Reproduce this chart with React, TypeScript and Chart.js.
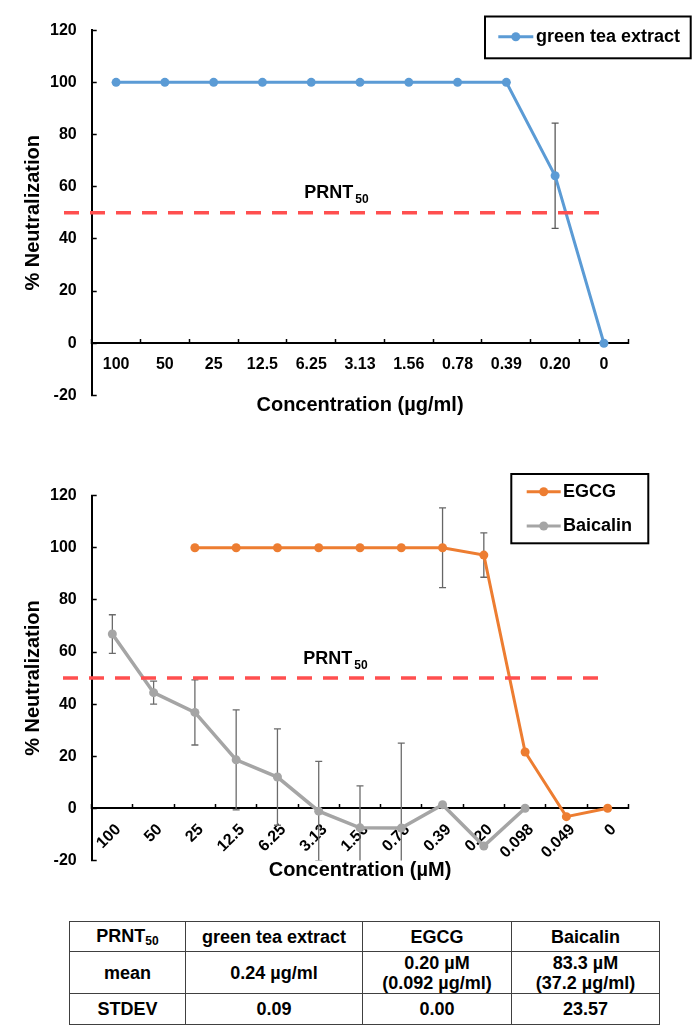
import React, { useEffect, useRef } from 'react';
import { Chart, registerables } from 'chart.js';

Chart.register(...registerables);

// ---------- DATA ----------
const topCategories = ['100', '50', '25', '12.5', '6.25', '3.13', '1.56', '0.78', '0.39', '0.20', '0'];
const greenTeaValues = [100, 100, 100, 100, 100, 100, 100, 100, 100, 64.2, 0];
const greenTeaErrors = [0, 0, 0, 0, 0, 0, 0, 0, 0, 20.2, 0];

const bottomCategories = ['100', '50', '25', '12.5', '6.25', '3.13', '1.56', '0.78', '0.39', '0.20', '0.098', '0.049', '0'];
const egcgValues = [null, null, 100, 100, 100, 100, 100, 100, 100, 97.2, 21.6, -3.2, 0];
const egcgErrors = [null, null, 0, 0, 0, 0, 0, 0, 15.3, 8.5, 0, 0, 0];
const baicalinValues = [66.9, 44.4, 36.8, 18.6, 12.0, -1.1, -7.5, -7.6, 1.4, -14.5, 0, null, null];
const baicalinErrors = [7.4, 4.4, 12.5, 19.2, 18.5, 19.1, 16.1, 32.6, 0, 0, 0, null, null];

const yMin = -20;
const yMax = 120;
const yStep = 20;
const prnt50Level = 50;

const tableHeader = ['green tea extract', 'EGCG', 'Baicalin'];
const tableMean = [['0.24 µg/ml'], ['0.20 µM', '(0.092 µg/ml)'], ['83.3 µM', '(37.2 µg/ml)']];
const tableStdev = ['0.09', '0.00', '23.57'];

// ---------- STYLE ----------
const FONT = '"Liberation Sans", Arial, sans-serif';
const BLUE = '#5B9BD5';
const ORANGE = '#ED7D31';
const GRAY = '#A5A5A5';
const RED = '#FF4F4F';

Chart.defaults.font.family = FONT;
Chart.defaults.color = '#000';

// ---------- PLUGINS ----------
const errorBarsPlugin = {
  id: 'errorBars',
  beforeDatasetsDraw(chart: any) {
    const { ctx, chartArea } = chart;
    ctx.save();
    ctx.beginPath();
    ctx.rect(chartArea.left, chartArea.top - 2, chartArea.right - chartArea.left, chartArea.bottom - chartArea.top + 2);
    ctx.clip();
    chart.data.datasets.forEach((ds: any, i: number) => {
      if (!ds.errors) return;
      const meta = chart.getDatasetMeta(i);
      const yS = chart.scales[meta.yAxisID];
      ctx.strokeStyle = ds.errorColor || '#666';
      ctx.lineWidth = 1.3;
      ds.data.forEach((v: any, j: number) => {
        const e = ds.errors[j];
        if (v == null || !e) return;
        const pt = meta.data[j];
        if (!pt) return;
        const x = pt.x;
        const yt = yS.getPixelForValue(v + e);
        const yb = yS.getPixelForValue(v - e);
        const cap = 3.5;
        ctx.beginPath();
        ctx.moveTo(x, yt);
        ctx.lineTo(x, yb);
        ctx.moveTo(x - cap, yt);
        ctx.lineTo(x + cap, yt);
        ctx.moveTo(x - cap, yb);
        ctx.lineTo(x + cap, yb);
        ctx.stroke();
      });
    });
    ctx.restore();
  },
};

const thresholdPlugin = {
  id: 'threshold',
  afterDatasetsDraw(chart: any, _args: any, opts: any) {
    const { ctx, chartArea } = chart;
    const y = chart.scales.y.getPixelForValue(opts.value);
    ctx.save();
    ctx.strokeStyle = RED;
    ctx.lineWidth = 3.5;
    ctx.setLineDash([15, 11]);
    ctx.beginPath();
    ctx.moveTo(chartArea.left + opts.startOffset, y);
    ctx.lineTo(chartArea.right + opts.endOffset, y);
    ctx.stroke();
    ctx.setLineDash([]);
    ctx.fillStyle = '#000';
    ctx.textBaseline = 'alphabetic';
    ctx.textAlign = 'left';
    ctx.font = `bold 18px ${FONT}`;
    const lx = chartArea.left + opts.labelDx;
    const ly = y + opts.labelDy;
    ctx.fillText('PRNT', lx, ly);
    const w = ctx.measureText('PRNT').width;
    ctx.font = `bold 12px ${FONT}`;
    ctx.fillText('50', lx + w + 2, ly + 5);
    ctx.restore();
  },
};

const boxLegendPlugin = {
  id: 'boxLegend',
  afterDraw(chart: any, _args: any, opts: any) {
    const { ctx } = chart;
    ctx.save();
    ctx.fillStyle = '#fff';
    ctx.fillRect(opts.x, opts.y, opts.w, opts.h);
    ctx.lineWidth = 2;
    ctx.strokeStyle = '#000';
    ctx.strokeRect(opts.x, opts.y, opts.w, opts.h);
    chart.data.datasets.forEach((ds: any, i: number) => {
      const ry = opts.rows[i];
      if (ry == null) return;
      ctx.strokeStyle = ds.borderColor;
      ctx.lineWidth = 3;
      ctx.beginPath();
      ctx.moveTo(opts.lineX1, ry);
      ctx.lineTo(opts.lineX2, ry);
      ctx.stroke();
      ctx.fillStyle = ds.borderColor;
      ctx.beginPath();
      ctx.arc((opts.lineX1 + opts.lineX2) / 2, ry, 4.5, 0, Math.PI * 2);
      ctx.fill();
      ctx.fillStyle = '#000';
      ctx.font = `bold 18px ${FONT}`;
      ctx.textBaseline = 'middle';
      ctx.textAlign = 'left';
      ctx.fillText(ds.label, opts.textX, ry + 0.5);
    });
    ctx.restore();
  },
};

function lineDataset(label: string, data: any[], errors: any[], color: string, width: number, errColor: string) {
  return {
    label,
    data,
    errors,
    errorColor: errColor,
    borderColor: color,
    backgroundColor: color,
    borderWidth: width,
    pointRadius: 4.5,
    pointBorderWidth: 0,
    pointBackgroundColor: color,
    tension: 0,
  };
}

function buildOptions(p: {
  padTop: number;
  xHeight: number;
  titleBottom: number;
  xTitle: string;
  rotation: number;
  labelOffset: number;
  legend: any;
  threshold: any;
}) {
  return {
    responsive: false,
    animation: false,
    layout: { padding: { left: 17, right: 71.7, top: p.padTop, bottom: 0 } },
    plugins: {
      legend: { display: false },
      tooltip: { enabled: false },
      boxLegend: p.legend,
      threshold: p.threshold,
    },
    scales: {
      x: {
        type: 'category',
        position: { y: 0 },
        offset: true,
        grid: {
          display: true,
          offset: true,
          drawOnChartArea: false,
          drawTicks: true,
          tickLength: -5,
          tickColor: '#000',
          tickWidth: 1.5,
        },
        border: { display: true, color: '#000', width: 2 },
        ticks: {
          autoSkip: false,
          minRotation: p.rotation,
          maxRotation: p.rotation,
          padding: 17,
          labelOffset: p.labelOffset,
          color: '#000',
          font: { size: 16, weight: 'bold' },
        },
        title: {
          display: true,
          text: p.xTitle,
          color: '#000',
          font: { size: 20, weight: 'bold' },
          padding: { top: 4, bottom: p.titleBottom },
        },
        afterFit: (scale: any) => {
          scale.height = p.xHeight;
        },
      },
      y: {
        type: 'linear',
        min: yMin,
        max: yMax,
        grid: {
          display: true,
          drawOnChartArea: false,
          drawTicks: true,
          tickLength: -5,
          tickColor: '#000',
          tickWidth: 1.5,
        },
        border: { display: true, color: '#000', width: 2 },
        ticks: {
          stepSize: yStep,
          padding: 20,
          color: '#000',
          font: { size: 16, weight: 'bold' },
        },
        title: {
          display: true,
          text: '% Neutralization',
          color: '#000',
          font: { size: 20, weight: 'bold' },
          padding: { top: 4, bottom: 4 },
        },
        afterFit: (scale: any) => {
          scale.width = 74.7;
        },
      },
    },
  };
}

function TopChart() {
  const ref = useRef<HTMLCanvasElement>(null);
  useEffect(() => {
    const chart = new Chart(ref.current as HTMLCanvasElement, {
      type: 'line',
      data: {
        labels: topCategories,
        datasets: [lineDataset('green tea extract', greenTeaValues, greenTeaErrors, BLUE, 3, '#595959')],
      },
      options: buildOptions({
        padTop: 30.2,
        xHeight: 28,
        titleBottom: -46.7,
        xTitle: 'Concentration (µg/ml)',
        rotation: 0,
        labelOffset: 0,
        legend: { x: 485, y: 16.5, w: 205.7, h: 41.8, rows: [36.7], lineX1: 498.3, lineX2: 533.3, textX: 536 },
        threshold: { value: prnt50Level, startOffset: -27.7, endOffset: -28.3, labelDx: 212.6, labelDy: -14.5 },
      }) as any,
      plugins: [errorBarsPlugin, thresholdPlugin, boxLegendPlugin],
    });
    return () => chart.destroy();
  }, []);
  return <canvas ref={ref} width={700} height={425} style={{ position: 'absolute', left: 0, top: 0 }} />;
}

function BottomChart() {
  const ref = useRef<HTMLCanvasElement>(null);
  useEffect(() => {
    const chart = new Chart(ref.current as HTMLCanvasElement, {
      type: 'line',
      data: {
        labels: bottomCategories,
        datasets: [
          lineDataset('EGCG', egcgValues, egcgErrors, ORANGE, 3, '#666'),
          lineDataset('Baicalin', baicalinValues, baicalinErrors, GRAY, 3.5, '#6b6b6b'),
        ],
      },
      options: buildOptions({
        padTop: 45.7,
        xHeight: 28.3,
        titleBottom: -46.1,
        xTitle: 'Concentration (µM)',
        rotation: 45,
        labelOffset: 6,
        legend: { x: 511.3, y: 24, w: 137, h: 69.3, rows: [41.7, 76], lineX1: 526.7, lineX2: 560.7, textX: 563 },
        threshold: { value: prnt50Level, startOffset: -28.7, endOffset: -29.3, labelDx: 211.6, labelDy: -14 },
      }) as any,
      plugins: [errorBarsPlugin, thresholdPlugin, boxLegendPlugin],
    });
    return () => chart.destroy();
  }, []);
  return <canvas ref={ref} width={700} height={440} style={{ position: 'absolute', left: 0, top: 450 }} />;
}

function SummaryTable() {
  const cell: React.CSSProperties = {
    border: '1.5px solid #404040',
    textAlign: 'center',
    verticalAlign: 'middle',
    padding: 0,
    lineHeight: '20px',
  };
  return (
    <table
      style={{
        position: 'absolute',
        left: 69,
        top: 921,
        width: 590,
        borderCollapse: 'collapse',
        fontFamily: FONT,
        fontWeight: 'bold',
        fontSize: 18,
        color: '#000',
        tableLayout: 'fixed',
      }}
    >
      <colgroup>
        <col style={{ width: 116 }} />
        <col style={{ width: 177 }} />
        <col style={{ width: 149 }} />
        <col style={{ width: 148 }} />
      </colgroup>
      <tbody>
        <tr style={{ height: 30 }}>
          <td style={cell}>
            PRNT<span style={{ fontSize: 12, position: 'relative', top: 3 }}>50</span>
          </td>
          {tableHeader.map((h) => (
            <td key={h} style={cell}>{h}</td>
          ))}
        </tr>
        <tr style={{ height: 42 }}>
          <td style={cell}>mean</td>
          {tableMean.map((lines, i) => (
            <td key={i} style={cell}>
              {lines.map((l, k) => (
                <div key={k}>{l}</div>
              ))}
            </td>
          ))}
        </tr>
        <tr style={{ height: 31 }}>
          <td style={cell}>STDEV</td>
          {tableStdev.map((s, i) => (
            <td key={i} style={cell}>{s}</td>
          ))}
        </tr>
      </tbody>
    </table>
  );
}

export default function App() {
  return (
    <div style={{ position: 'absolute', left: 0, top: 0, width: 700, height: 1034, background: '#fff' }}>
      <TopChart />
      <BottomChart />
      <SummaryTable />
    </div>
  );
}
